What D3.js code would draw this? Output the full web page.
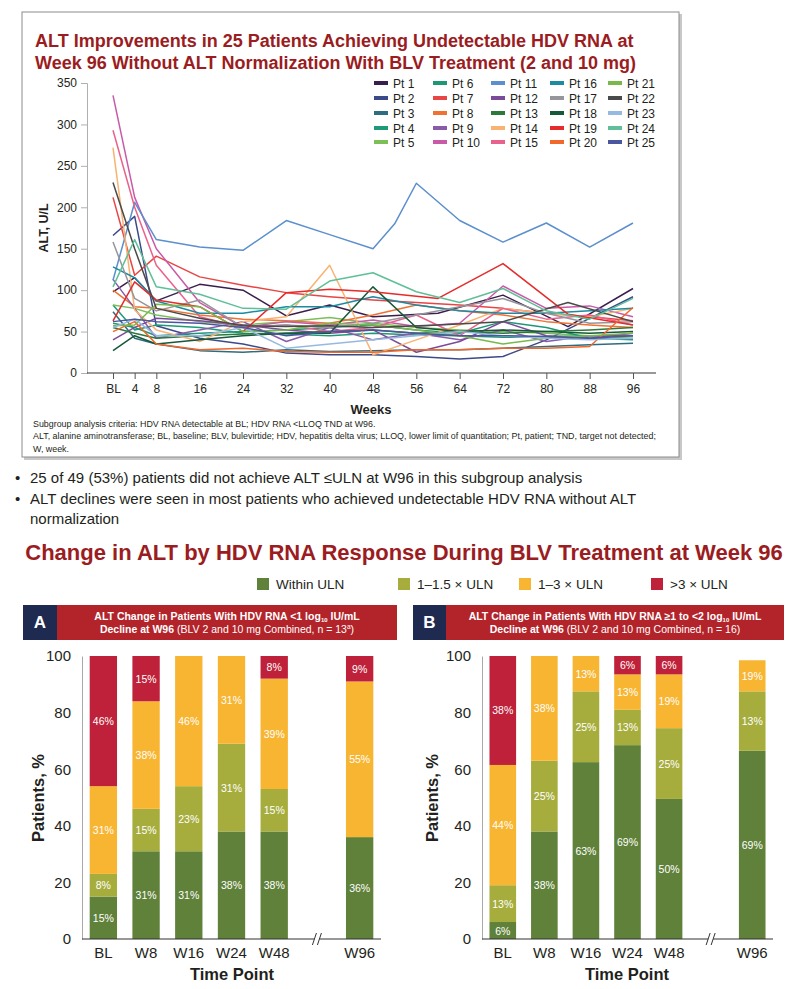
<!DOCTYPE html>
<html>
<head>
<meta charset="utf-8">
<script src="https://cdn.jsdelivr.net/npm/d3@7"></script>
<style>
  html, body { margin: 0; padding: 0; background: #fff; }
  svg { display: block; font-family: "Liberation Sans", Arial, sans-serif; }
</style>
</head>
<body>
<svg id="chart" width="809" height="989"></svg>
<script>
// ---------------- DATA: line chart ----------------
const weeksA = [0, 4, 8, 16, 24, 32, 40, 48, 56, 64, 72, 80, 88, 96];
const weeksB = [0, 4, 8, 16, 24, 32, 40, 48, 60, 72, 84, 96];
const weeksP11 = [0, 4, 8, 16, 24, 32, 40, 48, 52, 56, 64, 72, 80, 88, 96];
const xTickWeeks = [0, 4, 8, 16, 24, 32, 40, 48, 56, 64, 72, 80, 88, 96];
const xTickLabels = ["BL", "4", "8", "16", "24", "32", "40", "48", "56", "64", "72", "80", "88", "96"];
const yTicksALT = [0, 50, 100, 150, 200, 250, 300, 350];

const pt1 = [98, 115, 87, 107, 100, 69, 82, 68, 72, 94, 56, 102];
const pt2 = [166, 189, 57, 42, 35, 24, 22, 22, 20, 17, 20, 40, 66, 92];
const pt3 = [74, 42, 35, 27, 25, 28, 26, 27, 28, 28, 30, 32, 34, 36];
const pt4 = [82, 52, 58, 55, 48, 47, 45, 48, 46, 45, 43, 44, 45, 45];
const pt5 = [82, 78, 70, 62, 58, 62, 67, 60, 55, 52, 50, 48, 45, 42];
const pt6 = [60, 55, 45, 48, 50, 52, 55, 58, 52, 48, 62, 55, 42, 40];
const pt7 = [212, 118, 141, 116, 106, 97, 92, 88, 85, 82, 78, 72, 68, 63];
const pt8 = [100, 80, 78, 70, 65, 63, 60, 70, 82, 75, 70, 62, 58, 55];
const pt9 = [113, 78, 42, 52, 62, 38, 55, 40, 48, 40, 52, 38, 45, 45];
const pt10 = [335, 212, 150, 85, 55, 62, 58, 64, 56, 60, 105, 78, 81, 68];
const pt11 = [112, 206, 161, 152, 148, 184, 167, 150, 180, 229, 184, 158, 181, 152, 181];
const pt12 = [40, 55, 66, 63, 58, 52, 48, 52, 25, 38, 62, 45, 42, 48];
const pt13 = [55, 48, 42, 45, 47, 48, 50, 52, 48, 50, 48, 50, 52, 55];
const pt14 = [272, 76, 52, 38, 62, 68, 130, 22, 40, 58, 78, 72, 68, 78];
const pt15 = [293, 200, 130, 68, 55, 58, 50, 55, 70, 45, 78, 65, 70, 58];
const pt16 = [128, 115, 87, 72, 72, 80, 80, 92, 82, 75, 72, 72, 75, 78];
const pt17 = [158, 90, 75, 88, 55, 58, 55, 60, 70, 80, 90, 72, 60, 62];
const pt18 = [27, 45, 35, 40, 45, 48, 48, 104, 55, 50, 52, 50, 48, 50];
const pt19 = [63, 110, 88, 80, 50, 97, 101, 98, 90, 132, 71, 58];
const pt20 = [50, 62, 35, 28, 30, 26, 25, 25, 28, 28, 30, 30, 32, 79];
const pt21 = [57, 58, 83, 80, 50, 52, 60, 58, 52, 45, 35, 42, 45, 48];
const pt22 = [230, 150, 78, 66, 57, 56, 57, 55, 58, 62, 85, 62];
const pt23 = [55, 65, 45, 45, 55, 30, 35, 40, 45, 50, 45, 42, 40, 42];
const pt24 = [104, 161, 104, 95, 78, 77, 111, 121, 98, 85, 102, 75, 65, 90];
const pt25 = [62, 65, 62, 60, 55, 45, 50, 52, 48, 45, 45, 44, 42, 45];

const patientNames = d3.range(1, 26).map(i => "Pt " + i);
const patientValues = [pt1, pt2, pt3, pt4, pt5, pt6, pt7, pt8, pt9, pt10, pt11, pt12, pt13,
  pt14, pt15, pt16, pt17, pt18, pt19, pt20, pt21, pt22, pt23, pt24, pt25];
const patientWeeks = [weeksB, weeksA, weeksA, weeksA, weeksA, weeksA, weeksA, weeksA, weeksA, weeksA,
  weeksP11, weeksA, weeksA, weeksA, weeksA, weeksA, weeksA, weeksA, weeksB, weeksA,
  weeksA, weeksB, weeksA, weeksA, weeksA];
const patientColors = ["#3a1f4c", "#3c4a88", "#2f6c7e", "#1f9a78", "#7cbf57",
  "#1d9874", "#e84545", "#f07232", "#8a5ba8", "#c85aa8",
  "#5b8fcd", "#7b4b99", "#2b7a3b", "#f8b373", "#e9628c",
  "#1a8ba1", "#95959b", "#16583a", "#e52b2b", "#f0682c",
  "#79b84b", "#4a4a4a", "#96badf", "#5fbf98", "#4b56a0"];

// ---------------- DATA: bar charts ----------------
const barCategories = ["BL", "W8", "W16", "W24", "W48", "W96"];
const barSlots = [0, 1, 2, 3, 4, 6];
const legendLabels = ["Within ULN", "1\u20131.5 \u00d7 ULN", "1\u20133 \u00d7 ULN", ">3 \u00d7 ULN"];
const barColors = ["#5f813a", "#a6ad3d", "#f8b531", "#be2139"];
const yTicksPct = [0, 20, 40, 60, 80, 100];

// Panel A heights (as drawn) and printed labels
const aWithin = [15, 31, 31, 38, 38, 36];
const aLow = [8, 15, 23, 31, 15, 0];
const aMid = [31, 38, 46, 31, 39, 55];
const aHigh = [46, 16, 0, 0, 8, 9];
const aWithinLbl = ["15%", "31%", "31%", "38%", "38%", "36%"];
const aLowLbl = ["8%", "15%", "23%", "31%", "15%", ""];
const aMidLbl = ["31%", "38%", "46%", "31%", "39%", "55%"];
const aHighLbl = ["46%", "15%", "", "", "8%", "9%"];

// Panel B heights (as drawn) and printed labels
const bWithin = [6, 38, 62.5, 68.5, 49.5, 66.5];
const bLow = [13, 25, 25, 12.5, 25, 21];
const bMid = [42.5, 37, 12.5, 12.5, 19, 11];
const bHigh = [38.5, 0, 0, 6.5, 6.5, 0];
const bWithinLbl = ["6%", "38%", "63%", "69%", "50%", "69%"];
const bLowLbl = ["13%", "25%", "25%", "13%", "25%", "13%"];
const bMidLbl = ["44%", "38%", "13%", "13%", "19%", "19%"];
const bHighLbl = ["38%", "", "", "6%", "6%", ""];

// ---------------- DRAW ----------------
const svg = d3.select("#chart");
const darkRed = "#9b1c21";
const textCol = "#231f20";

// --- Top framed panel ---
svg.append("rect").attr("x", 24).attr("y", 14).attr("width", 658).attr("height", 446).attr("fill", "#c8c8c8");
svg.append("rect").attr("x", 22).attr("y", 12).attr("width", 657).attr("height", 445)
  .attr("fill", "#fff").attr("stroke", "#8c8c8c").attr("stroke-width", 1);

const title1 = svg.append("text").attr("x", 36).attr("y", 46).attr("fill", darkRed)
  .attr("font-size", 18).attr("font-weight", "bold");
title1.append("tspan").attr("x", 35).attr("y", 47).text("ALT Improvements in 25 Patients Achieving Undetectable HDV RNA at");
title1.append("tspan").attr("x", 35).attr("y", 69).text("Week 96 Without ALT Normalization With BLV Treatment (2 and 10 mg)");

const x = d3.scaleLinear().domain([0, 96]).range([113, 633]);
const y = d3.scaleLinear().domain([0, 350]).range([373, 83]);

// y axis
const yAx = svg.append("g").attr("transform", "translate(87,0)")
  .call(d3.axisLeft(y).tickValues(yTicksALT).tickSize(6).tickPadding(4));
yAx.select(".domain").attr("stroke", "#b0b0b0");
yAx.selectAll(".tick line").attr("stroke", "#b0b0b0");
yAx.selectAll("text").attr("font-size", 12).attr("fill", textCol).attr("font-family", "Liberation Sans, Arial");

// x axis
const xAx = svg.append("g").attr("transform", "translate(0,373)")
  .call(d3.axisBottom(x).tickValues(xTickWeeks).tickFormat((d, i) => xTickLabels[i]).tickSize(6).tickPadding(5).tickSizeOuter(0));
xAx.select(".domain").attr("d", "M87,0H656").attr("stroke", "#333");
xAx.selectAll(".tick line").attr("stroke", "#555");
xAx.selectAll("text").attr("font-size", 12).attr("fill", textCol).attr("font-family", "Liberation Sans, Arial");

svg.append("text").attr("transform", "translate(48,228) rotate(-90)").attr("text-anchor", "middle")
  .attr("font-size", 12.5).attr("font-weight", "bold").attr("fill", textCol).text("ALT, U/L");
svg.append("text").attr("x", 371).attr("y", 414).attr("text-anchor", "middle")
  .attr("font-size", 13).attr("font-weight", "bold").attr("fill", textCol).text("Weeks");

// lines
const line = d3.line().x(d => x(d.w)).y(d => y(d.v));
const series = patientValues.map((vals, i) => ({
  name: patientNames[i], color: patientColors[i],
  pts: vals.map((v, j) => ({ w: patientWeeks[i][j], v: v }))
}));
svg.append("g").selectAll("path").data(series).join("path")
  .attr("d", s => line(s.pts)).attr("fill", "none").attr("stroke", s => s.color)
  .attr("stroke-width", 1.5).attr("stroke-linejoin", "round");

// legend (5 columns, column-major)
const legCols = [374, 433, 491, 550, 608];
const legRows = [83, 98, 113, 128, 142];
const leg = svg.append("g").selectAll("g").data(series).join("g")
  .attr("transform", (s, i) => `translate(${legCols[Math.floor(i / 5)]},${legRows[i % 5]})`);
leg.append("rect").attr("x", 0).attr("y", -2).attr("width", 14).attr("height", 4).attr("fill", s => s.color);
leg.append("text").attr("x", 19).attr("y", 4.5).attr("font-size", 12).attr("fill", textCol).text(s => s.name);

// footnotes
const foot = ["Subgroup analysis criteria: HDV RNA detectable at BL; HDV RNA <LLOQ TND at W96.",
  "ALT, alanine aminotransferase; BL, baseline; BLV, bulevirtide; HDV, hepatitis delta virus; LLOQ, lower limit of quantitation; Pt, patient; TND, target not detected;",
  "W, week."];
svg.append("g").selectAll("text").data(foot).join("text")
  .attr("x", 33).attr("y", (d, i) => 427 + i * 12.3).attr("font-size", 8.9).attr("fill", textCol).text(d => d);

// bullets
const bullets = [
  { y: 483, t: "25 of 49 (53%) patients did not achieve ALT \u2264ULN at W96 in this subgroup analysis", b: true },
  { y: 504, t: "ALT declines were seen in most patients who achieved undetectable HDV RNA without ALT", b: true },
  { y: 524, t: "normalization", b: false }];
bullets.forEach(d => {
  if (d.b) svg.append("text").attr("x", 15).attr("y", d.y).attr("font-size", 15).attr("fill", textCol).text("\u2022");
  svg.append("text").attr("x", 30).attr("y", d.y).attr("font-size", 15).attr("fill", textCol).text(d.t);
});

// section title
svg.append("text").attr("x", 404).attr("y", 560).attr("text-anchor", "middle").attr("fill", darkRed)
  .attr("font-size", 22).attr("font-weight", "bold")
  .text("Change in ALT by HDV RNA Response During BLV Treatment at Week 96");

// legend for bars
const barLegX = [257, 398, 519, 651];
legendLabels.forEach((l, i) => {
  svg.append("rect").attr("x", barLegX[i]).attr("y", 578).attr("width", 12).attr("height", 12).attr("fill", barColors[i]);
  svg.append("text").attr("x", barLegX[i] + 19).attr("y", 589).attr("font-size", 13.5).attr("fill", textCol).text(l);
});

// panel drawing
function panel(opt) {
  const g = svg.append("g");
  // header
  g.append("rect").attr("x", opt.hx0).attr("y", 605).attr("width", opt.hx1 - opt.hx0).attr("height", 35).attr("fill", "#1f2a50");
  g.append("rect").attr("x", opt.hx1).attr("y", 605).attr("width", opt.hx2 - opt.hx1).attr("height", 35).attr("fill", "#b3232a");
  g.append("text").attr("x", (opt.hx0 + opt.hx1) / 2).attr("y", 628).attr("text-anchor", "middle")
    .attr("fill", "#fff").attr("font-size", 17).attr("font-weight", "bold").text(opt.letter);
  const cx = (opt.hx1 + opt.hx2) / 2;
  const t1 = g.append("text").attr("x", cx).attr("y", 620).attr("text-anchor", "middle")
    .attr("fill", "#fff").attr("font-size", 10.5).attr("font-weight", "bold");
  t1.append("tspan").text(opt.line1a);
  t1.append("tspan").attr("font-size", 6).attr("dy", 2).text("10");
  t1.append("tspan").attr("dy", -2).text(" IU/mL");
  const t2 = g.append("text").attr("x", cx).attr("y", 633).attr("text-anchor", "middle")
    .attr("fill", "#fff").attr("font-size", 10.5);
  t2.append("tspan").attr("font-weight", "bold").text("Decline at W96");
  t2.append("tspan").text(opt.line2);
  if (opt.sup) {
    t2.append("tspan").attr("font-size", 6.5).attr("dy", -4).text(opt.sup);
    t2.append("tspan").attr("dy", 4).text(")");
  } else {
    t2.append("tspan").text(")");
  }

  const xb = d3.scaleBand().domain(d3.range(7)).range([opt.ax, opt.axEnd]).paddingInner(0.36).paddingOuter(0.18);
  const yb = d3.scaleLinear().domain([0, 100]).range([939, 656]);

  // bars
  const stacks = opt.vals;
  const labels = opt.lbls;
  barCategories.forEach((c, i) => {
    let base = 0;
    stacks.forEach((arr, k) => {
      const v = arr[i];
      if (v > 0) {
        g.append("rect").attr("x", xb(barSlots[i])).attr("width", xb.bandwidth())
          .attr("y", yb(base + v)).attr("height", yb(base) - yb(base + v)).attr("fill", barColors[k]);
        if (labels[k][i]) {
          g.append("text").attr("x", xb(barSlots[i]) + xb.bandwidth() / 2).attr("y", yb(base + v / 2) + 4)
            .attr("text-anchor", "middle").attr("fill", "#fff").attr("font-size", 10.5).text(labels[k][i]);
        }
      }
      base += v;
    });
  });

  // y axis
  const ya = g.append("g").attr("transform", `translate(${opt.ax},0)`)
    .call(d3.axisLeft(yb).tickValues(yTicksPct).tickSize(0).tickPadding(11));
  ya.select(".domain").attr("stroke", "#a8a8a8");
  ya.selectAll("text").attr("font-size", 15).attr("fill", textCol).attr("font-family", "Liberation Sans, Arial");

  // x axis
  g.append("line").attr("x1", opt.ax).attr("x2", opt.axEnd).attr("y1", 939).attr("y2", 939).attr("stroke", "#333").attr("stroke-width", 1.2);
  barCategories.forEach((c, i) => {
    g.append("text").attr("x", xb(barSlots[i]) + xb.bandwidth() / 2).attr("y", 958).attr("text-anchor", "middle")
      .attr("font-size", 15).attr("fill", textCol).text(c);
  });
  // break marker
  const bx = xb(5) + xb.bandwidth() / 2;
  g.append("rect").attr("x", bx - 2.5).attr("y", 934).attr("width", 5).attr("height", 10).attr("fill", "#fff");
  [-2.5, 2.5].forEach(o => g.append("line").attr("x1", bx + o - 2).attr("y1", 945).attr("x2", bx + o + 2).attr("y2", 933)
    .attr("stroke", "#333").attr("stroke-width", 1));

  g.append("text").attr("transform", `translate(${opt.ytx},798) rotate(-90)`).attr("text-anchor", "middle")
    .attr("font-size", 16.5).attr("font-weight", "bold").attr("fill", textCol).text("Patients, %");
  g.append("text").attr("x", opt.xtx).attr("y", 980).attr("text-anchor", "middle")
    .attr("font-size", 16.5).attr("font-weight", "bold").attr("fill", textCol).text("Time Point");
}

panel({
  letter: "A", hx0: 23, hx1: 57, hx2: 397,
  line1a: "ALT Change in Patients With HDV RNA <1 log", line2: " (BLV 2 and 10 mg Combined, n = 13", sup: "a",
  ax: 82, axEnd: 381, ytx: 44, xtx: 232,
  vals: [aWithin, aLow, aMid, aHigh], lbls: [aWithinLbl, aLowLbl, aMidLbl, aHighLbl]
});
panel({
  letter: "B", hx0: 413, hx1: 446, hx2: 784,
  line1a: "ALT Change in Patients With HDV RNA \u22651 to <2 log", line2: " (BLV 2 and 10 mg Combined, n = 16", sup: null,
  ax: 482, axEnd: 773, ytx: 438, xtx: 627,
  vals: [bWithin, bLow, bMid, bHigh], lbls: [bWithinLbl, bLowLbl, bMidLbl, bHighLbl]
});
</script>
</body>
</html>
